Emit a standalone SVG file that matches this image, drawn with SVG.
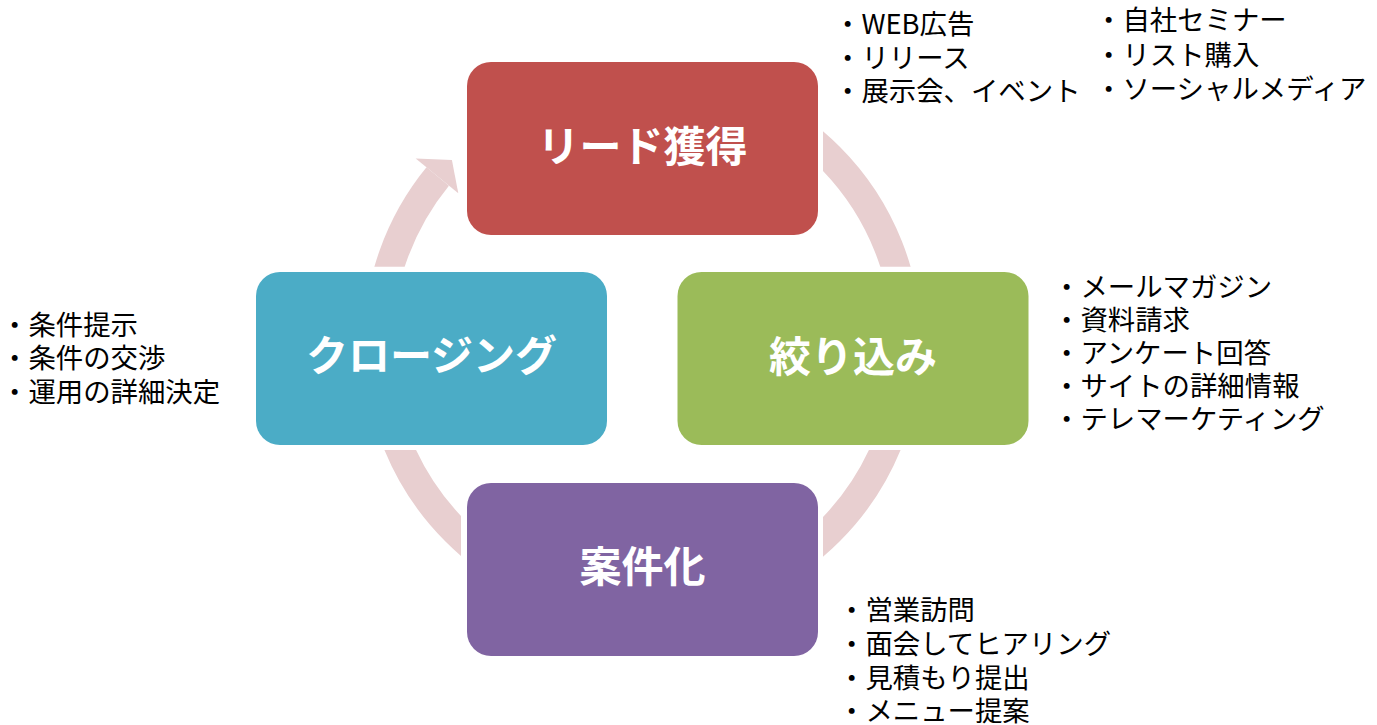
<svg xmlns="http://www.w3.org/2000/svg" width="1377" height="725" viewBox="0 0 1377 725">
  <defs>
    <style>
      .ring { fill: none; stroke: #E8CFD0; stroke-width: 29; }
      .head { fill: #E8CFD0; }
      .box { stroke: none; }
      .title { font-family: "Noto Sans CJK JP", "Noto Sans", sans-serif; font-size: 42px; font-weight: bold; fill: #FFFFFF; text-anchor: middle; }
      .item { font-family: "Noto Sans CJK JP", "Noto Sans", sans-serif; font-size: 27.4px; fill: #000000; }
    </style>
    <clipPath id="clipTR"><rect x="823" y="0" width="554" height="266.7"/></clipPath>
    <clipPath id="clipBR"><rect x="823" y="450" width="554" height="275"/></clipPath>
    <clipPath id="clipBL"><rect x="0" y="450" width="461" height="275"/></clipPath>
    <clipPath id="clipTL"><rect x="0" y="0" width="470" height="266.7"/></clipPath>
  </defs>
  <rect x="0" y="0" width="1377" height="725" fill="#FFFFFF"/>

  <g id="connectors">
    <circle class="ring" cx="642.5" cy="344" r="264.5" clip-path="url(#clipTR)"/>
    <circle class="ring" cx="642.5" cy="344" r="264.5" clip-path="url(#clipBR)"/>
    <circle class="ring" cx="642.5" cy="344" r="264.5" clip-path="url(#clipBL)"/>
    <path class="ring" d="M 378 344 A 264.5 264.5 0 0 1 437.7 176.5" clip-path="url(#clipTL)"/>
    <polygon class="head" points="458.3,193.3 415.7,158.4 451.9,159.9"/>
  </g>

  <g id="node-lead">
    <rect class="box" x="467" y="62" width="351" height="173" rx="24" fill="#C0504D"/>
    <text class="title" x="642.5" y="162">リード獲得</text>
  </g>
  <g id="node-qualify">
    <rect class="box" x="677.5" y="272" width="351" height="173" rx="24" fill="#9BBB59"/>
    <text class="title" x="853" y="372">絞り込み</text>
  </g>
  <g id="node-deal">
    <rect class="box" x="467" y="483" width="351" height="173" rx="24" fill="#8064A2"/>
    <text class="title" x="642.5" y="582">案件化</text>
  </g>
  <g id="node-closing">
    <rect class="box" x="256" y="272" width="351" height="173" rx="24" fill="#4BACC6"/>
    <text class="title" x="431.5" y="371">クロージング</text>
  </g>

  <g id="notes-lead-1">
    <text class="item" x="834" y="34">・WEB広告</text>
    <text class="item" x="834" y="67.5">・リリース</text>
    <text class="item" x="834" y="101">・展示会、イベント</text>
  </g>
  <g id="notes-lead-2">
    <text class="item" x="1095" y="30">・自社セミナー</text>
    <text class="item" x="1095" y="64.5">・リスト購入</text>
    <text class="item" x="1095" y="99">・ソーシャルメディア</text>
  </g>
  <g id="notes-qualify">
    <text class="item" x="1053" y="297">・メールマガジン</text>
    <text class="item" x="1053" y="330">・資料請求</text>
    <text class="item" x="1053" y="363">・アンケート回答</text>
    <text class="item" x="1053" y="396">・サイトの詳細情報</text>
    <text class="item" x="1053" y="429">・テレマーケティング</text>
  </g>
  <g id="notes-deal">
    <text class="item" x="838" y="620">・営業訪問</text>
    <text class="item" x="838" y="654">・面会してヒアリング</text>
    <text class="item" x="838" y="688">・見積もり提出</text>
    <text class="item" x="838" y="721">・メニュー提案</text>
  </g>
  <g id="notes-closing">
    <text class="item" x="1" y="335">・条件提示</text>
    <text class="item" x="1" y="368">・条件の交渉</text>
    <text class="item" x="1" y="402">・運用の詳細決定</text>
  </g>
</svg>
